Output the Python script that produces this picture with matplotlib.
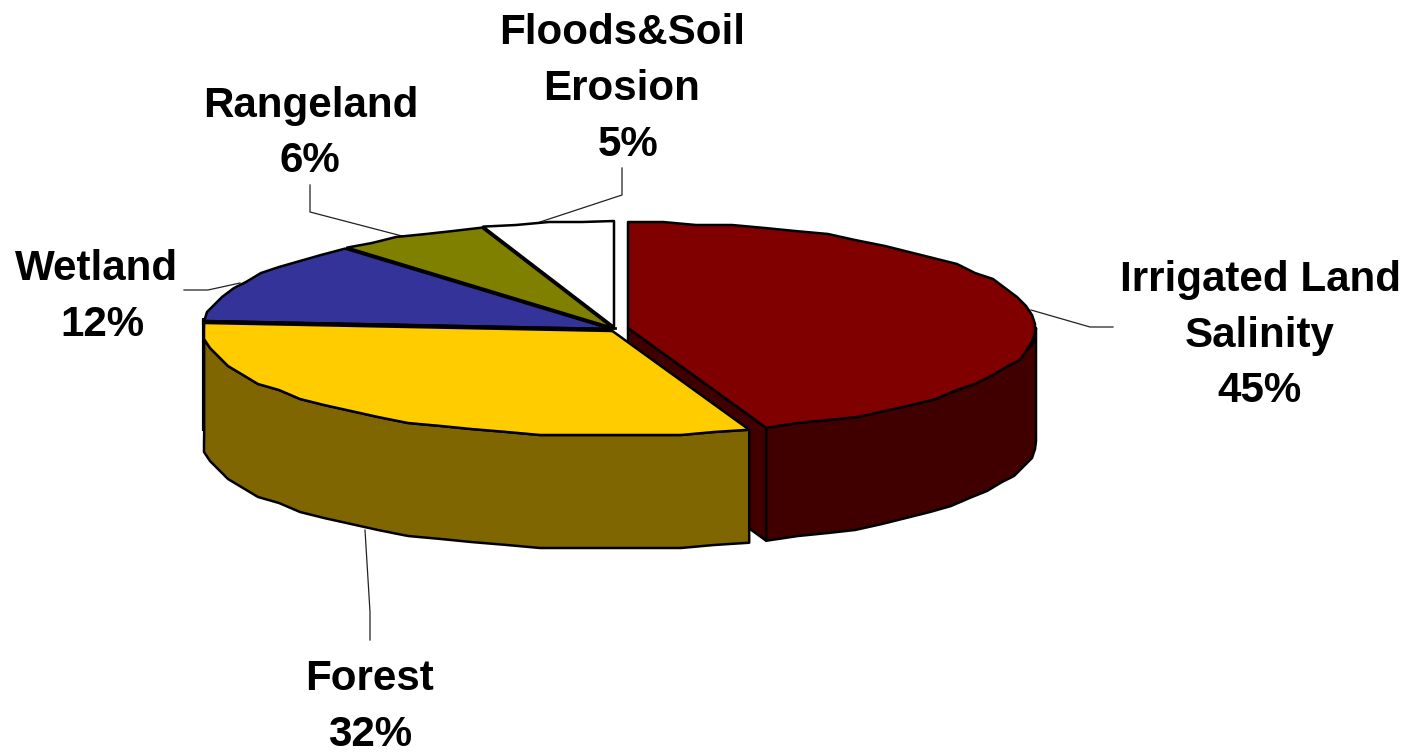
import numpy as np
import matplotlib
matplotlib.use("Agg")
import matplotlib.pyplot as plt
from matplotlib.patches import Polygon

# Data: share of each slice, clockwise from 12 o'clock
categories = ["Irrigated Land Salinity", "Forest", "Wetland", "Rangeland", "Floods&Soil Erosion"]
values = [44.5, 31.7, 12.5, 6.1, 5.2]
top_colors = ["#800000", "#FFCC00", "#333399", "#808000", "#FFFFFF"]
side_colors = ["#400000", "#806600", "#1A1A4D", "#404000", "#808080"]

# Layout (pixels)
centers = [(628, 328), (611, 330), (611, 329), (613, 328), (614, 327)]
RX, RY, DEPTH = 408, 106, 113
LW = 1.8
GRID = 3.0   # the reference outline is a slightly stepped polygon

fig = plt.figure(figsize=(14.09, 7.52), dpi=100)
ax = fig.add_axes([0, 0, 1, 1])
ax.set_xlim(0, 1409)
ax.set_ylim(752, 0)
ax.axis("off")

# slice angles derived from values
fractions = np.array(values) / np.sum(values) * 360
ends = 90 - np.cumsum(fractions)
starts = ends + fractions


def arc(i, a0=None, a1=None, dy=0):
    a0 = starts[i] if a0 is None else a0
    a1 = ends[i] if a1 is None else a1
    n = max(3, int(abs(a0 - a1) / 5) + 2)
    t = np.radians(np.linspace(a0, a1, n))
    cx, cy = centers[i]
    x = cx + RX * np.cos(t)
    y = cy - RY * np.sin(t)
    x[1:-1] = np.round(x[1:-1] / GRID) * GRID
    y[1:-1] = np.round(y[1:-1] / GRID) * GRID
    return np.column_stack([x, y + dy])


def poly(pts, color, z, lw=LW):
    ax.add_patch(Polygon(pts, closed=True, facecolor=color, edgecolor="black",
                         linewidth=lw, joinstyle="round", zorder=z))


def top(i, z, lw=LW):
    poly(np.vstack([centers[i], arc(i)]), top_colors[i], z, lw)


def side(i, z, a0=None, a1=None):
    a = arc(i, a0, a1)
    b = arc(i, a0, a1, dy=DEPTH)
    poly(np.vstack([a, b[::-1]]), side_colors[i], z)


# Irrigated land: cut face, outer wall, top
c0 = arc(0)[-1]
cx0, cy0 = centers[0]
poly([(cx0, cy0), c0, (c0[0], c0[1] + DEPTH), (cx0, cy0 + DEPTH)], side_colors[0], 1)
side(0, 2, a1=ends[0], a0=min(starts[0], 0))
top(0, 3)

# Back slices
top(4, 4)
top(3, 5)
top(2, 6)

# Forest: outer wall and top
ax.plot([203.5, 203.5], [318, 431], color="black", lw=3, solid_capstyle="butt", zorder=6.5)
side(1, 7)
top(1, 8)
a = arc(1)
ax.plot([a[-1][0], centers[1][0]], [a[-1][1], centers[1][1]], color="black", lw=3.2, zorder=9)
ax.plot([centers[4][0] - 1, centers[4][0] + 1], [centers[4][1] + 1, centers[4][1] + 1],
        color="black", lw=2, zorder=9)

# Leader lines
leaders = [
    ([1031, 1090, 1113], [310, 327, 327]),
    ([240, 208, 184], [283, 290, 290]),
    ([402, 310, 310], [236, 212, 185]),
    ([540, 622, 622], [222, 195, 168]),
    ([365, 370, 370], [530, 612, 640]),
]
for xs, ys in leaders:
    ax.plot(xs, ys, color="#222222", lw=0.9, zorder=0.5)

# Labels
labels = [
    ("Irrigated Land", 1260, 275), ("Salinity", 1260, 331), ("45%", 1260, 386),
    ("Forest", 370, 675), ("32%", 370, 730),
    ("Wetland", 97, 264), ("12%", 102, 320),
    ("Rangeland", 311, 101), ("6%", 310, 157),
    ("Floods&Soil", 622, 29), ("Erosion", 622, 84), ("5%", 628, 140),
]
for s, x, y in labels:
    ax.text(x, y, s, family="Liberation Sans", weight="bold", fontsize=30.3,
            ha="center", va="center_baseline", color="black", zorder=10)

fig.savefig("out.png", dpi=100, facecolor="white")
